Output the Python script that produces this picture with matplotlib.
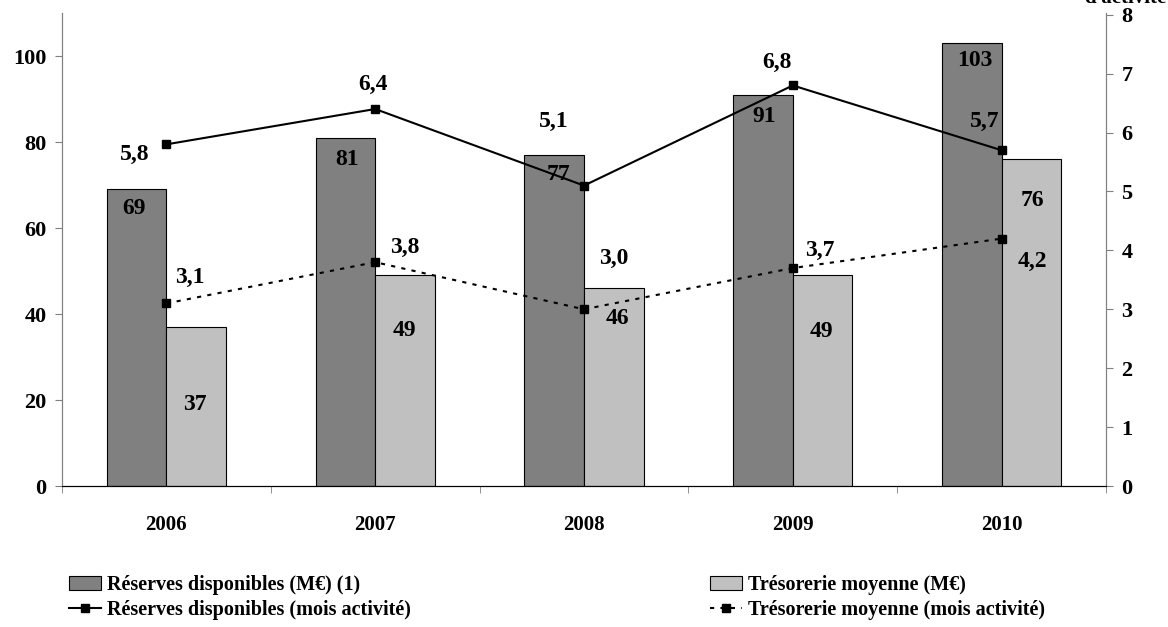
import matplotlib.pyplot as plt
from matplotlib.lines import Line2D
from matplotlib.patches import Patch

plt.rcParams['font.family'] = ['Liberation Serif', 'DejaVu Serif']
plt.rcParams['font.weight'] = 'bold'

years = ['2006', '2007', '2008', '2009', '2010']
reserves_me = [69, 81, 77, 91, 103]
tresorerie_me = [37, 49, 46, 49, 76]
reserves_mois = [5.8, 6.4, 5.1, 6.8, 5.7]
tresorerie_mois = [3.1, 3.8, 3.0, 3.7, 4.2]

# label offsets in pixels (dx, dy) relative to each mark
off_res_bar = [(-3, -19), (2, -22), (4, -20), (1, -22), (3, -17)]
off_tre_bar = [(-1, -78), (-1, -55), (4, -30), (-1, -56), (1, -41)]
off_res_line = [(-32, -10), (-2, 25), (-30, 64), (-16, 23), (-17, 29)]
off_tre_line = [(23, 26), (30, 15), (30, 51), (27, 18), (31, -23)]

x = list(range(len(years)))
w = 0.285

fig = plt.figure(figsize=(11.68, 6.27), dpi=100)
ax = fig.add_axes([62 / 1168, 1 - 486 / 627, (1106 - 62) / 1168, (486 - 13) / 627])
ax2 = ax.twinx()

ax.bar([i - w / 2 for i in x], reserves_me, w, color='#808080', edgecolor='black', linewidth=0.8)
ax.bar([i + w / 2 for i in x], tresorerie_me, w, color='#c0c0c0', edgecolor='black', linewidth=0.8)

ax2.plot(x, reserves_mois, color='black', lw=1.5, marker='s', ms=6)
ax2.plot(x, tresorerie_mois, color='black', lw=1.5, ls=(0, (2, 3)), marker='s', ms=6)

ax.set_xlim(-0.5, 4.5)
ax.set_ylim(0, 110)
ax2.set_ylim(0, 8.03)
ax.set_yticks(range(0, 101, 20))
ax2.set_yticks(range(0, 9))
ax.set_xticks(x)
ax.set_xticklabels(years)
ax.set_xticks([i + 0.5 for i in range(-1, 5)], minor=True)
ax.tick_params(axis='x', which='major', length=0, pad=21, labelsize=15)
ax.tick_params(axis='x', which='minor', length=5, color='#808080', direction='out')
ax.tick_params(axis='y', labelsize=16, length=5, color='#808080', pad=6)
ax2.tick_params(axis='y', labelsize=16, length=5, color='#808080', pad=6)

for a in (ax, ax2):
    a.spines['top'].set_visible(False)
    a.spines['left'].set_color('#808080')
    a.spines['right'].set_color('#808080')
    a.spines['bottom'].set_color('black')

fs = 17
for i in x:
    ax.annotate(str(reserves_me[i]), (i - w / 2, reserves_me[i]), xytext=off_res_bar[i],
                textcoords='offset pixels', ha='center', va='center', fontsize=fs)
    ax.annotate(str(tresorerie_me[i]), (i + w / 2, tresorerie_me[i]), xytext=off_tre_bar[i],
                textcoords='offset pixels', ha='center', va='center', fontsize=fs)
    ax2.annotate(f'{reserves_mois[i]:.1f}'.replace('.', ','), (i, reserves_mois[i]), xytext=off_res_line[i],
                 textcoords='offset pixels', ha='center', va='center', fontsize=fs)
    ax2.annotate(f'{tresorerie_mois[i]:.1f}'.replace('.', ','), (i, tresorerie_mois[i]), xytext=off_tre_line[i],
                 textcoords='offset pixels', ha='center', va='center', fontsize=fs)

fig.text(1125 / 1168, 1 - 3 / 627, "d'activité", ha='center', va='baseline', fontsize=15)

h1 = [Patch(facecolor='#808080', edgecolor='black', linewidth=0.8, label='Réserves disponibles (M€) (1)'),
      Line2D([], [], color='black', lw=1.5, marker='s', ms=6, label='Réserves disponibles (mois activité)')]
h2 = [Patch(facecolor='#c0c0c0', edgecolor='black', linewidth=0.8, label='Trésorerie moyenne (M€)'),
      Line2D([], [], color='black', lw=1.5, ls=(0, (2, 3)), marker='s', ms=6,
             label='Trésorerie moyenne (mois activité)')]
for hs, xpos in ((h1, 69 / 1168), (h2, 710 / 1168)):
    fig.legend(handles=hs, loc='upper left', bbox_to_anchor=(xpos, 1 - 575 / 627), frameon=False,
               fontsize=14.5, handlelength=1.6, handletextpad=0.3, labelspacing=0.25, borderaxespad=0,
               borderpad=0)

fig.savefig('out.png', dpi=100)
